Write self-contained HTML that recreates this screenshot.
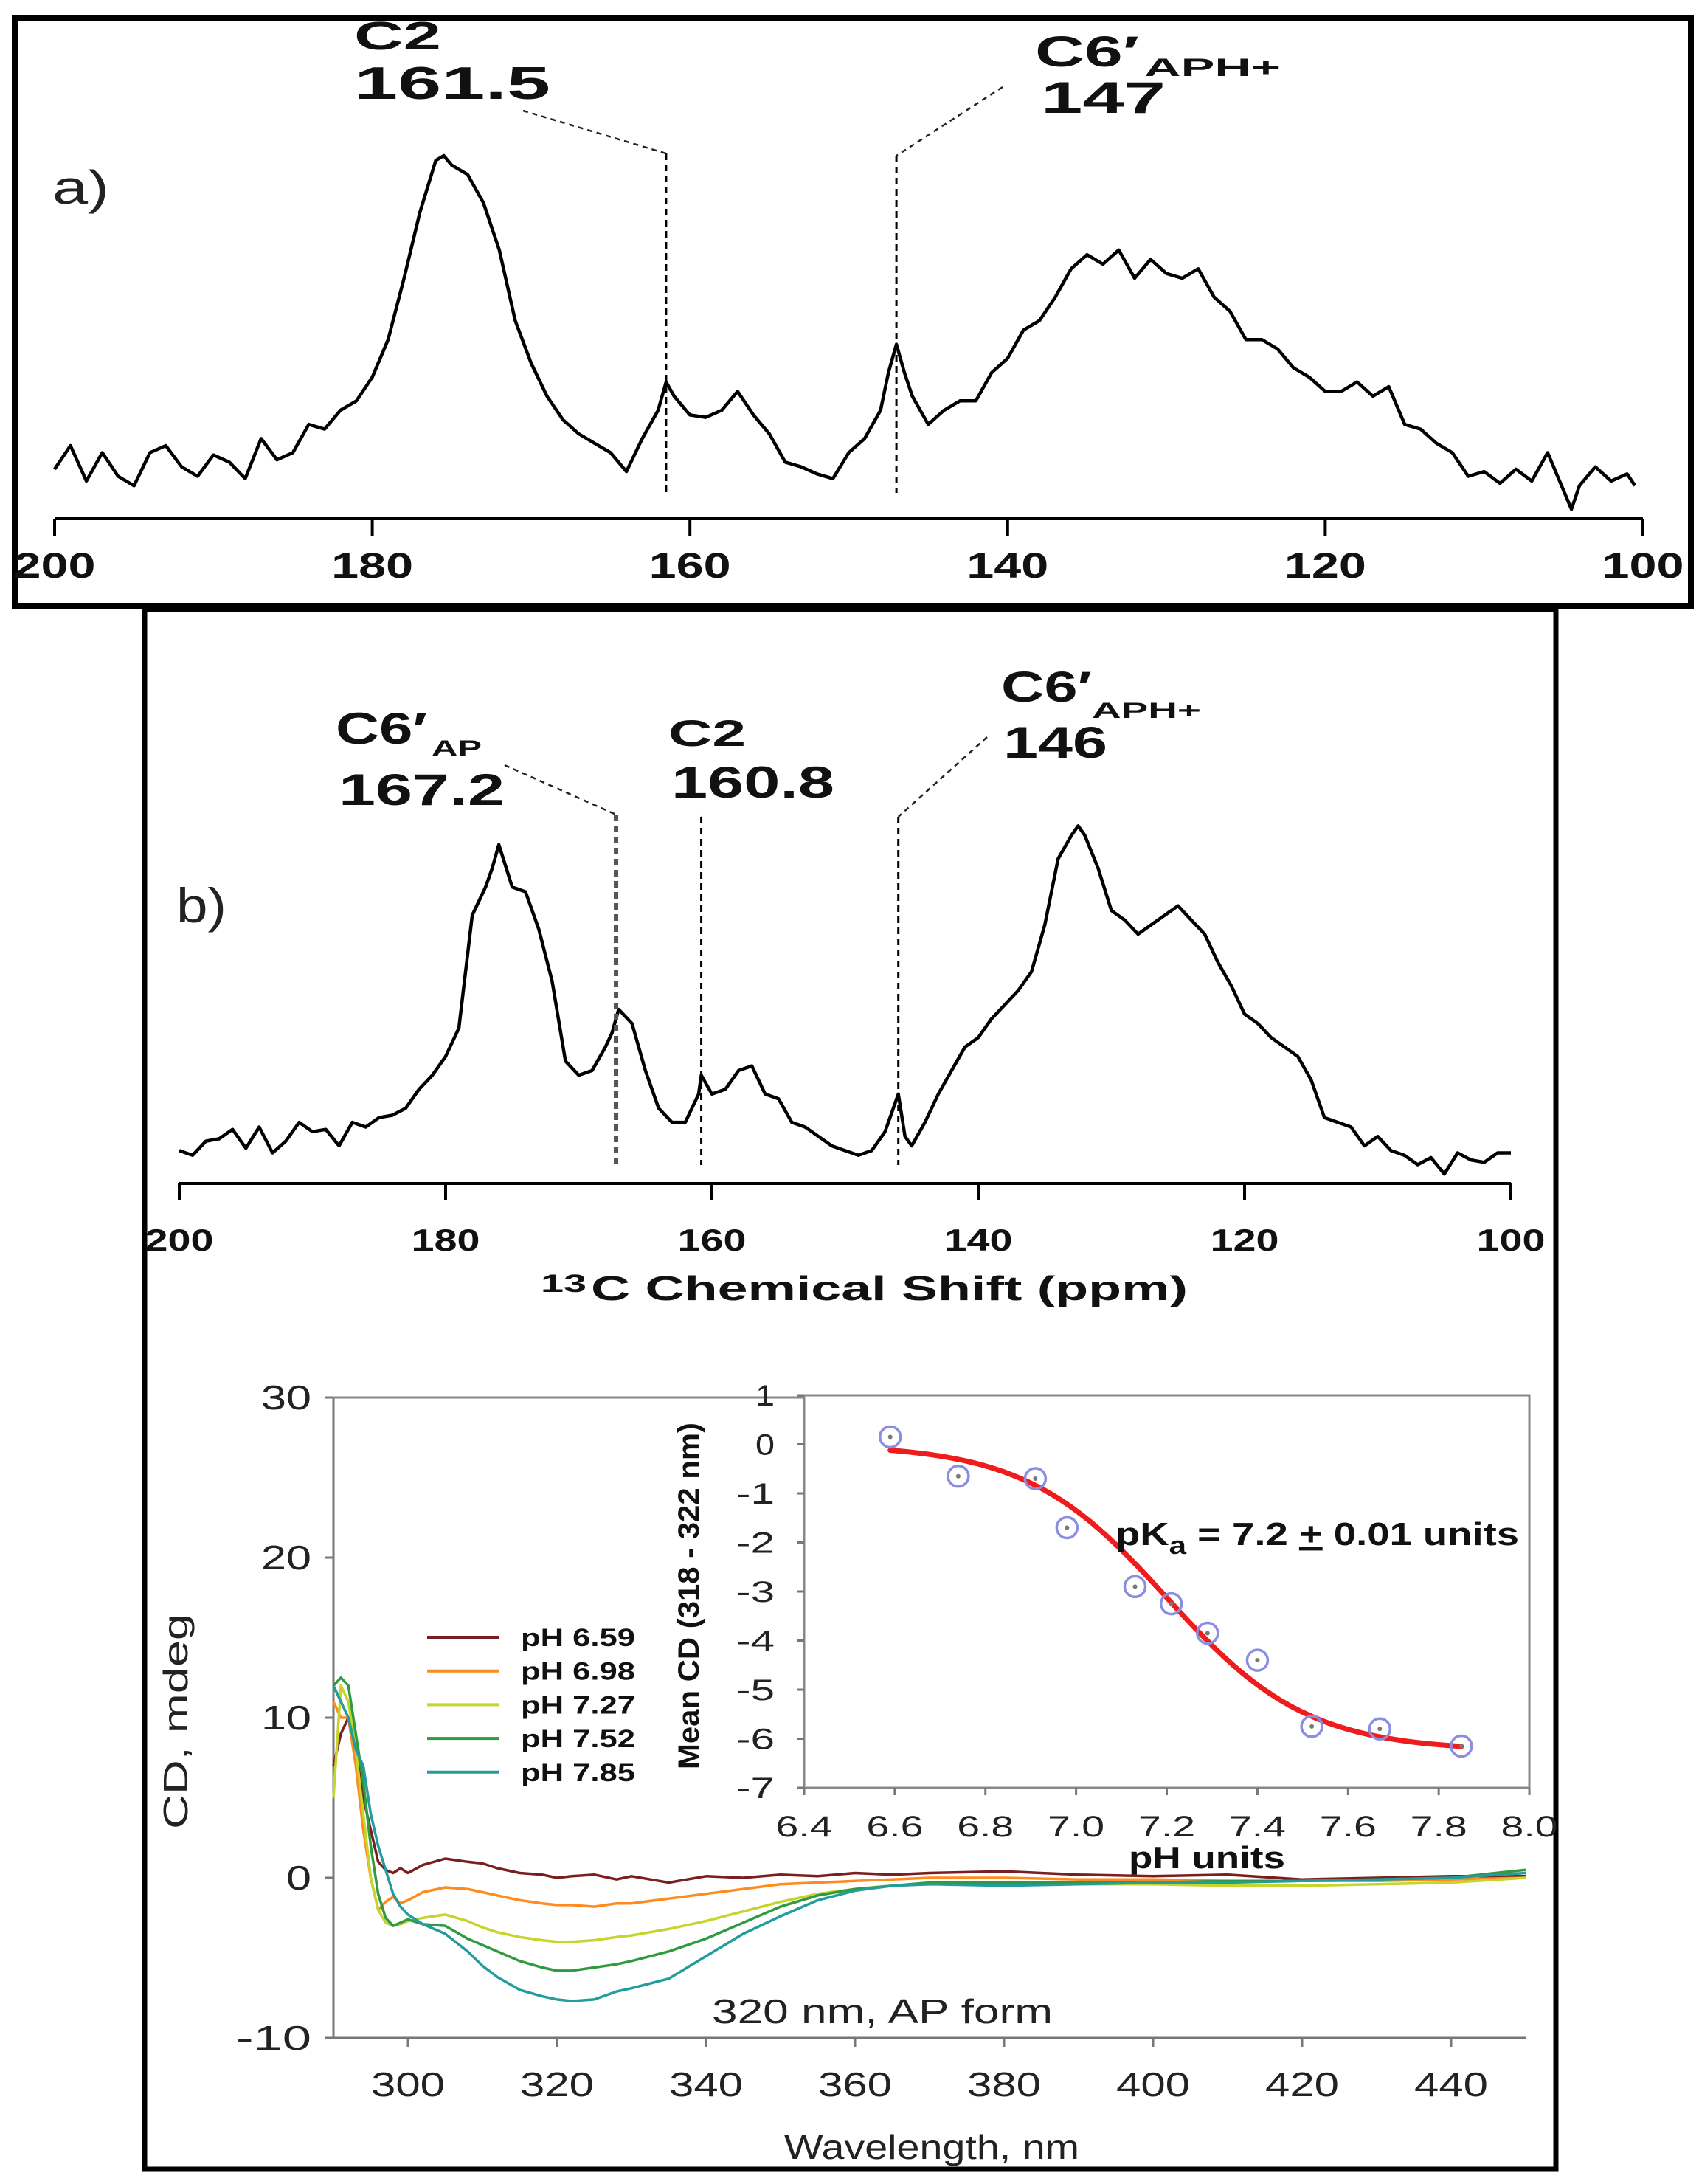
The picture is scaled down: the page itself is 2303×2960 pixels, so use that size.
<!DOCTYPE html>
<html><head><meta charset="utf-8"><style>
html,body{margin:0;padding:0;background:#fff;}
svg{display:block;}
.b{font-family:"Liberation Sans",sans-serif;font-weight:bold;fill:#111;}
.r{font-family:"Liberation Sans",sans-serif;fill:#222;}
</style></head><body>
<svg id="fig" xmlns="http://www.w3.org/2000/svg" width="2303" height="2960" viewBox="0 0 2303 2960">
<rect x="0" y="0" width="2303" height="2960" fill="#fff"/>
<rect x="20" y="24" width="2272" height="797" fill="none" stroke="#000" stroke-width="8"/>
<rect x="196" y="826" width="1913" height="2114" fill="none" stroke="#000" stroke-width="7"/>
<g id="gA"></g>
<g id="gB"></g>
<g id="gC"></g>
<g id="gI"></g>
</svg>
<script>
// ---- Panel a data ----
const ppmA=[200,199,198,197,196,195,194,193,192,191,190,189,188,187,186,185,184,183,182,181,180,179,178,177,176,175.5,175,174,173,172,171,170,169,168,167,166,165,164,163,162,161.5,161,160,159,158,157,156,155,154,153,152,151,150,149,148,147.5,147,146.5,146,145,144,143,142,141,140,139,138,137,136,135,134,133,132,131,130,129,128,127,126,125,124,123,122,121,120,119,118,117,116,115,114,113,112,111,110,109,108,107,106,105,104.5,104,103,102,101,100.5];
const intA=[105,155,80,140,90,70,140,155,110,90,135,120,85,170,125,140,200,190,230,250,300,380,510,650,760,770,750,730,670,570,420,330,260,210,180,160,140,100,170,230,290,260,220,215,230,270,220,180,120,110,95,85,140,170,230,310,370,310,260,200,230,250,250,310,340,400,420,470,530,560,540,570,510,550,520,510,530,470,440,380,380,360,320,300,270,270,290,260,280,200,190,160,140,90,100,75,105,80,140,60,20,70,110,80,95,70];
// ---- Panel b data ----
const ppmB=[200,199,198,197,196,195,194,193,192,191,190,189,188,187,186,185,184,183,182,181,180,179,178,177,176.5,176,175,174,173,172,171,170,169,168,167.5,167,166,165,164,163,162,161,160.8,160,159,158,157,156,155,154,153,152,151,150,149,148,147,146.5,146,145.5,145,144,143,142,141,140,139,138,137,136,135,134,133,132.5,132,131,130,129,128,127,126,125,124,123,122,121,120,119,118,117,116,115,114,113,112,111,110,109,108,107,106,105,104,103,102,101,100];
const intB=[70,60,90,95,115,75,120,65,90,130,110,115,80,130,120,140,145,160,200,230,270,330,570,630,670,720,630,620,540,430,260,230,240,290,320,370,340,240,160,130,130,190,230,190,200,240,250,190,180,130,120,100,80,70,60,70,110,150,190,100,80,130,190,240,290,310,350,380,410,450,550,690,740,760,740,670,580,560,530,550,570,590,560,530,470,420,360,340,310,290,270,220,140,130,120,80,100,70,60,40,55,20,65,50,45,65,65];
const ticksNMR=[200,180,160,140,120,100];
// ---- CD data ----
const wl=[290,291,292,293,294,295,296,297,298,299,300,302,305,308,310,312,315,318,320,322,325,328,330,335,340,345,350,355,360,365,370,380,390,400,410,420,430,440,450];
const cd659=[7,9,10,8,5,3,1,0.5,0.3,0.6,0.3,0.8,1.2,1.0,0.9,0.6,0.3,0.2,0.0,0.1,0.2,-0.1,0.1,-0.3,0.1,0.0,0.2,0.1,0.3,0.2,0.3,0.4,0.2,0.1,0.2,-0.1,0.0,0.1,0.1];
const cd698=[11,10,10,7,3,0,-2.0,-1.5,-1.2,-1.6,-1.4,-0.9,-0.6,-0.7,-0.9,-1.1,-1.4,-1.6,-1.7,-1.7,-1.8,-1.6,-1.6,-1.3,-1.0,-0.7,-0.4,-0.3,-0.2,-0.1,0,0,-0.1,-0.1,-0.2,-0.2,-0.2,-0.1,0];
const cd727=[5,12,11,8,4,0,-2,-2.8,-3.0,-2.9,-2.7,-2.5,-2.3,-2.7,-3.1,-3.4,-3.7,-3.9,-4.0,-4.0,-3.9,-3.7,-3.6,-3.2,-2.7,-2.1,-1.5,-1.0,-0.7,-0.5,-0.4,-0.4,-0.4,-0.4,-0.5,-0.5,-0.4,-0.3,0];
const cd752=[12,12.5,12,9,6,2,-1,-2.5,-3.0,-2.8,-2.6,-2.9,-3.0,-3.8,-4.2,-4.6,-5.2,-5.6,-5.8,-5.8,-5.6,-5.4,-5.2,-4.6,-3.8,-2.8,-1.8,-1.1,-0.7,-0.5,-0.3,-0.3,-0.3,-0.3,-0.2,-0.2,-0.1,0,0.5];
const cd785=[12,11,10,8,7,4,2,0.5,-1,-1.8,-2.3,-2.9,-3.5,-4.6,-5.5,-6.2,-7.0,-7.4,-7.6,-7.7,-7.6,-7.1,-6.9,-6.3,-4.9,-3.5,-2.4,-1.4,-0.8,-0.5,-0.4,-0.5,-0.4,-0.3,-0.3,-0.2,-0.1,0,0.3];
const seriesLabels=["pH 6.59","pH 6.98","pH 7.27","pH 7.52","pH 7.85"];
const cdXTicks=[300,320,340,360,380,400,420,440];
const cdYTicks=[30,20,10,0,-10];
// ---- Inset data ----
const phVals=[6.59,6.74,6.91,6.98,7.13,7.21,7.29,7.40,7.52,7.67,7.85];
const meanCD=[0.15,-0.65,-0.7,-1.7,-2.9,-3.25,-3.85,-4.4,-5.75,-5.8,-6.15];
const fitTop=[0], fitBottom=[-6.25], fitPKa=[7.2], fitHill=[2.8];
const inXTicks=["6.4","6.6","6.8","7.0","7.2","7.4","7.6","7.8","8.0"];
const inYTicks=[1,0,-1,-2,-3,-4,-5,-6,-7];

const NS="http://www.w3.org/2000/svg";
function mk(parent,tag,attrs,txt){const e=document.createElementNS(NS,tag);for(const k in attrs)e.setAttribute(k,attrs[k]);if(txt!==undefined)e.textContent=txt;parent.appendChild(e);return e;}

const xA=p=>74+(200-p)*21.53, yA=v=>703-v/1.565;
const xB=p=>243+(200-p)*18.05, yB=v=>1604-v/1.568;
const xC=w=>452+(w-290)*10.1, yC=v=>2545-v*21.7;
const xI=p=>1090+(p-6.4)*614.4, yI=v=>1891+(1-v)*66.5;

const gA=document.getElementById('gA'),gB=document.getElementById('gB'),gC=document.getElementById('gC'),gI=document.getElementById('gI');

function nmrPanel(g,ppm,ints,xf,yf,axisY,x0,x1,tickLen,labY,labW,labSize,tag){
  const ax=mk(g,'line',{x1:x0,y1:axisY,x2:x1,y2:axisY,stroke:'#000','stroke-width':4});
  
  
  ticksNMR.forEach(t=>{
    const tk=mk(g,'line',{x1:xf(t),y1:axisY,x2:xf(t),y2:axisY+tickLen,stroke:'#000','stroke-width':4});
    
    
    const tl=mk(g,'text',{x:xf(t),y:labY,'text-anchor':'middle','class':'b','font-size':labSize,textLength:labW,lengthAdjust:'spacingAndGlyphs'},String(t));
    
    
  });
  const pts=ppm.map((p,i)=>xf(p).toFixed(1)+','+yf(ints[i]).toFixed(1)).join(' ');
  const sp=mk(g,'polyline',{points:pts,fill:'none',stroke:'#000','stroke-width':4.5,'stroke-linejoin':'round'});
  
  
}
nmrPanel(gA,ppmA,intA,xA,yA,703,74,2227,24,783,111,48,'panel-a');
nmrPanel(gB,ppmB,intB,xB,yB,1604,243,2048,22,1695,93,42,'panel-b');

function marker(g,name,ppm,xf,yTop,yBot,lx,ly,color,w){
  const x=xf(ppm);
  const v=mk(g,'line',{x1:x,y1:yTop,x2:x,y2:yBot,stroke:color,'stroke-width':w,'stroke-dasharray':'9 6'});
  
  
  const l=mk(g,'line',{x1:lx,y1:ly,x2:x,y2:yTop,stroke:'#222','stroke-width':2.5,'stroke-dasharray':'7 6'});
  
  
}
marker(gA,'c2-a',161.5,xA,208,674,709,150,'#000',3);
marker(gA,'c6-aph-a',147,xA,211,668,1359,118,'#000',3);
marker(gB,'c6-ap-b',167.2,xB,1104,1579,684,1037,'#555',6);
marker(gB,'c2-b',160.8,xB,1107,1579,951,1107,'#000',3);
marker(gB,'c6-aph-b',146,xB,1107,1579,1338,999,'#000',3);

function lbl(g,name,x,y,size,w,txt,cls){
  const t=mk(g,'text',{x:x,y:y,'class':cls||'b','font-size':size,textLength:w,lengthAdjust:'spacingAndGlyphs'},txt);
  
  
  return t;
}
lbl(gA,'c2-label-a',480,67,54,118,'C2');
lbl(gA,'c2-value-a',480,134,62,266,'161.5');
lbl(gA,'c6-aph-label-a',1403,90,58,141,'C6′');
lbl(gA,'c6-aph-subscript-a',1551,103,34,185,'APH+');
lbl(gA,'c6-aph-value-a',1411,153,60,169,'147');
lbl(gA,'panel-a-letter',71,276,64,77,'a)','r');
lbl(gB,'c6-ap-label-b',455,1008,60,124,'C6′');
lbl(gB,'c6-ap-subscript-b',585,1024,30,68,'AP');
lbl(gB,'c6-ap-value-b',459,1091,60,225,'167.2');
lbl(gB,'c2-label-b',906,1011,50,105,'C2');
lbl(gB,'c2-value-b',910,1081,60,221,'160.8');
lbl(gB,'c6-aph-label-b',1357,951,58,123,'C6′');
lbl(gB,'c6-aph-subscript-b',1480,973,30,148,'APH+');
lbl(gB,'c6-aph-value-b',1360,1027,60,141,'146');
lbl(gB,'panel-b-letter',239,1250,66,68,'b)','r');
lbl(gB,'x-axis-title-superscript',733,1751,34,62,'13');
lbl(gB,'x-axis-title',801,1762,46,809,'C Chemical Shift (ppm)');

// ---- CD main plot ----
const axL=mk(gC,'polyline',{points:`${xC(290)},${yC(30)} ${xC(290)},${yC(-10)} ${xC(450)},${yC(-10)}`,fill:'none',stroke:'#777','stroke-width':3});


const topL=mk(gC,'line',{x1:xC(290),y1:yC(30),x2:xI(6.4),y2:yC(30),stroke:'#888','stroke-width':3});


cdYTicks.forEach(v=>{
  const t=mk(gC,'line',{x1:xC(290)-12,y1:yC(v),x2:xC(290),y2:yC(v),stroke:'#777','stroke-width':3});
  
  
  const s=String(v);
  const l=mk(gC,'text',{x:xC(290)-30,y:yC(v)+16,'text-anchor':'end','class':'r','font-size':46,textLength:s.length*34,lengthAdjust:'spacingAndGlyphs'},s);
  
  
});
cdXTicks.forEach(w=>{
  const t=mk(gC,'line',{x1:xC(w),y1:yC(-10),x2:xC(w),y2:yC(-10)+12,stroke:'#777','stroke-width':3});
  
  
  const l=mk(gC,'text',{x:xC(w),y:2841,'text-anchor':'middle','class':'r','font-size':46,textLength:100,lengthAdjust:'spacingAndGlyphs'},String(w));
  
  
});
const xt=mk(gC,'text',{x:1263,y:2926,'text-anchor':'middle','class':'r','font-size':46,textLength:400,lengthAdjust:'spacingAndGlyphs'},'Wavelength, nm');


const yt=mk(gC,'text',{x:0,y:0,transform:'translate(254,2333) rotate(-90)','text-anchor':'middle','class':'r','font-size':46,textLength:292,lengthAdjust:'spacingAndGlyphs'},'CD, mdeg');


const series=[cd659,cd698,cd727,cd752,cd785];
const colors=['#7a1f1f','#ff8a1e','#c5d52c','#2f9a40','#229c9c'];
series.forEach((s,i)=>{
  const pts=wl.map((w,j)=>xC(w).toFixed(1)+','+yC(s[j]).toFixed(1)).join(' ');
  const pl=mk(gC,'polyline',{points:pts,fill:'none',stroke:colors[i],'stroke-width':3.5,'stroke-linejoin':'round'});
  
  
  const ly=2219+i*45.7;
  const ll=mk(gC,'line',{x1:579,y1:ly,x2:677,y2:ly,stroke:colors[i],'stroke-width':4});
  
  
  const lt=mk(gC,'text',{x:706,y:ly+12,'class':'b','font-size':34,textLength:155,lengthAdjust:'spacingAndGlyphs'},seriesLabels[i]);
  
  
});
const ann=mk(gC,'text',{x:965,y:2742,'class':'r','font-size':46,textLength:462,lengthAdjust:'spacingAndGlyphs'},'320 nm, AP form');



// ---- Inset ----
const fr=mk(gI,'rect',{x:xI(6.4),y:yI(1),width:xI(8.0)-xI(6.4),height:yI(-7)-yI(1),fill:'none',stroke:'#888','stroke-width':3});


inYTicks.forEach(v=>{
  const t=mk(gI,'line',{x1:xI(6.4)-10,y1:yI(v),x2:xI(6.4),y2:yI(v),stroke:'#777','stroke-width':3});
  
  
  const s=String(v);
  const l=mk(gI,'text',{x:xI(6.4)-40,y:yI(v)+14,'text-anchor':'end','class':'r','font-size':40,textLength:s.length*26,lengthAdjust:'spacingAndGlyphs'},s);
  
  
});
inXTicks.forEach(s=>{
  const p=parseFloat(s);
  const t=mk(gI,'line',{x1:xI(p),y1:yI(-7),x2:xI(p),y2:yI(-7)+10,stroke:'#777','stroke-width':3});
  
  
  const l=mk(gI,'text',{x:xI(p),y:2489,'text-anchor':'middle','class':'r','font-size':40,textLength:77,lengthAdjust:'spacingAndGlyphs'},s);
  
  
});
const ixt=mk(gI,'text',{x:1636,y:2532,'text-anchor':'middle','class':'b','font-size':42,textLength:212,lengthAdjust:'spacingAndGlyphs'},'pH units');


const iyt=mk(gI,'text',{x:0,y:0,transform:'translate(947,2163) rotate(-90)','text-anchor':'middle','class':'b','font-size':40,textLength:470,lengthAdjust:'spacingAndGlyphs'},'Mean CD (318 - 322 nm)');


const fitPts=[];
for(let k=0;k<=60;k++){const p=phVals[0]+(phVals[phVals.length-1]-phVals[0])*k/60;
  const v=fitTop[0]+(fitBottom[0]-fitTop[0])/(1+Math.pow(10,fitHill[0]*(fitPKa[0]-p)));
  fitPts.push(xI(p).toFixed(1)+','+yI(v).toFixed(1));}
const fit=mk(gI,'polyline',{points:fitPts.join(' '),fill:'none',stroke:'#ee1c1c','stroke-width':7,'stroke-linecap':'round'});


phVals.forEach((p,i)=>{
  const c=mk(gI,'circle',{cx:xI(p),cy:yI(meanCD[i]),r:14,fill:'none',stroke:'#8a8ee0','stroke-width':3.5});
  
  
  const d=mk(gI,'circle',{cx:xI(p),cy:yI(meanCD[i]),r:3,fill:'#777'});
  
  
});
const pk=mk(gI,'text',{x:1512,y:2094,'class':'b','font-size':44,textLength:547,lengthAdjust:'spacingAndGlyphs'},'');


mk(pk,'tspan',{},'pK');
mk(pk,'tspan',{dy:12,'font-size':34},'a');
mk(pk,'tspan',{dy:-12},' = 7.2 ');
mk(pk,'tspan',{'text-decoration':'underline'},'+');
mk(pk,'tspan',{},' 0.01 units');
</script>
</body></html>
